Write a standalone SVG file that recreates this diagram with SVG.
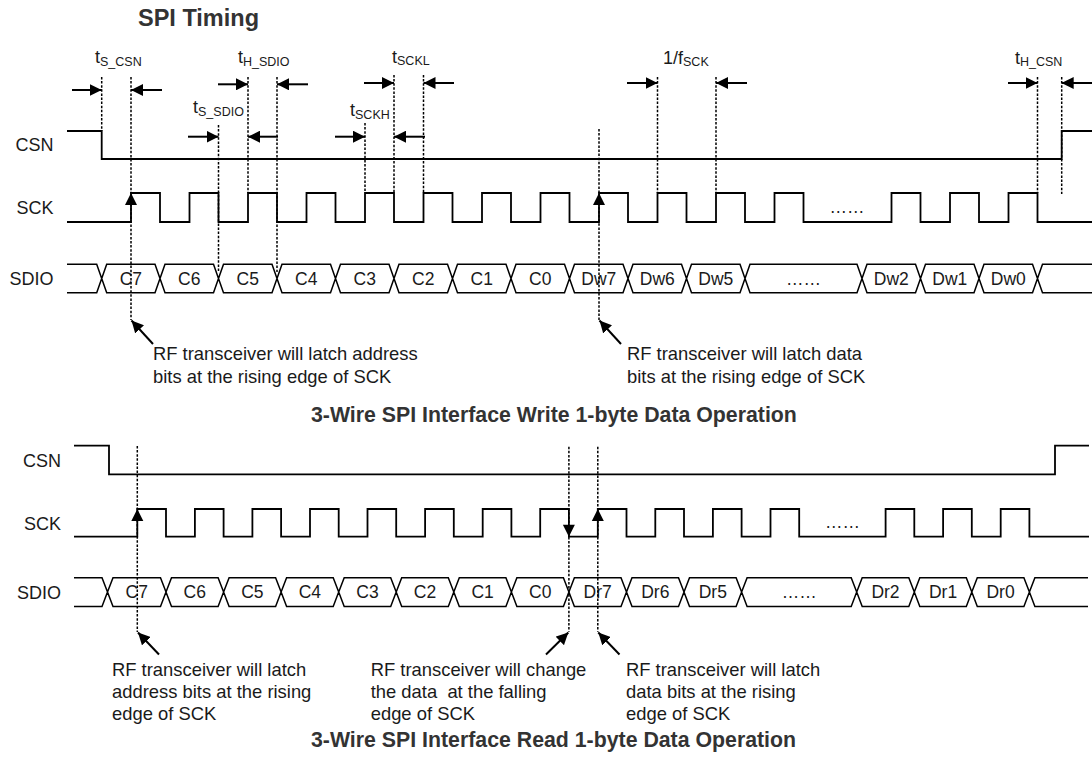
<svg xmlns="http://www.w3.org/2000/svg" width="1092" height="759" viewBox="0 0 1092 759">
<defs>
<style>
text{font-family:"Liberation Sans",Arial,sans-serif;fill:#1a1a1a}
.lbl{font-size:18px}
.cell{font-size:17.5px;text-anchor:middle}
.tl{font-size:18px}
.sub{font-size:12.5px}
.ann{font-size:18.4px;white-space:pre}
.ttl{font-weight:bold;fill:#333}
.wave{fill:none;stroke:#000;stroke-width:1.8}
.bus{fill:none;stroke:#000;stroke-width:1.5}
.dot{fill:none;stroke:#000;stroke-width:1.5;stroke-dasharray:2.5 1.6}
.arr{fill:none;stroke:#000;stroke-width:2;marker-end:url(#ah)}
.head{fill:#000}
</style>
<marker id="ah" viewBox="0 0 12 12" refX="12" refY="6" markerWidth="12" markerHeight="12" markerUnits="userSpaceOnUse" orient="auto">
<path d="M0,0 L12,6 L0,12 z" fill="#000"/>
</marker>
</defs>
<rect width="1092" height="759" fill="#fff"/>

<g id="title"><text class="ttl" x="138" y="26" font-size="23.5">SPI Timing</text></g>

<!-- ===== WRITE ===== -->
<g id="w-csn">
<text class="lbl" x="53.5" y="151.4" text-anchor="end">CSN</text>
<path class="wave" d="M67,131 H101.7 V159 H1061.7 V131 H1092"/>
</g>
<g id="w-sck">
<text class="lbl" x="53.5" y="214" text-anchor="end">SCK</text>
<path class="wave" d="M67,222 H131 V193 H160 V222 H189.5 V193 H218.5 V222 H248 V193 H277 V222 H306.5 V193 H335.5 V222 H365 V193 H394 V222 H423.5 V193 H452.5 V222 H482 V193 H511 V222 H540.5 V193 H569.5 V222 H599 V193 H628 V222 H657.5 V193 H686.5 V222 H716 V193 H745 V222 H774.5 V193 H803.5 V222 H891.5 V193 H920.5 V222 H950 V193 H979 V222 H1008.5 V193 H1037.5 V222 H1092"/>
<text class="cell" x="847" y="213">……</text>
</g>
<g id="w-sdio">
<text class="lbl" x="53.5" y="285" text-anchor="end">SDIO</text>
<path class="bus" d="M67,264.3 H96.7 L101.7,278.5 L96.7,292.7 H67
M101.7,278.5 L106.7,264.3 H155 L160,278.5 L155,292.7 H106.7 Z
M160,278.5 L165,264.3 H213.5 L218.5,278.5 L213.5,292.7 H165 Z
M218.5,278.5 L223.5,264.3 H272 L277,278.5 L272,292.7 H223.5 Z
M277,278.5 L282,264.3 H330.5 L335.5,278.5 L330.5,292.7 H282 Z
M335.5,278.5 L340.5,264.3 H389 L394,278.5 L389,292.7 H340.5 Z
M394,278.5 L399,264.3 H447.5 L452.5,278.5 L447.5,292.7 H399 Z
M452.5,278.5 L457.5,264.3 H506 L511,278.5 L506,292.7 H457.5 Z
M511,278.5 L516,264.3 H564.5 L569.5,278.5 L564.5,292.7 H516 Z
M569.5,278.5 L574.5,264.3 H623 L628,278.5 L623,292.7 H574.5 Z
M628,278.5 L633,264.3 H681.5 L686.5,278.5 L681.5,292.7 H633 Z
M686.5,278.5 L691.5,264.3 H740 L745,278.5 L740,292.7 H691.5 Z
M745,278.5 L750,264.3 H857 L862,278.5 L857,292.7 H750 Z
M862,278.5 L867,264.3 H915.5 L920.5,278.5 L915.5,292.7 H867 Z
M920.5,278.5 L925.5,264.3 H974 L979,278.5 L974,292.7 H925.5 Z
M979,278.5 L984,264.3 H1032.5 L1037.5,278.5 L1032.5,292.7 H984 Z
M1037.5,278.5 L1042.5,264.3 H1092 M1037.5,278.5 L1042.5,292.7 H1092"/>
<text class="cell" x="130.9" y="284.8">C7</text>
<text class="cell" x="189.3" y="284.8">C6</text>
<text class="cell" x="247.8" y="284.8">C5</text>
<text class="cell" x="306.3" y="284.8">C4</text>
<text class="cell" x="364.8" y="284.8">C3</text>
<text class="cell" x="423.3" y="284.8">C2</text>
<text class="cell" x="481.8" y="284.8">C1</text>
<text class="cell" x="540.3" y="284.8">C0</text>
<text class="cell" x="598.8" y="284.8">Dw7</text>
<text class="cell" x="657.3" y="284.8">Dw6</text>
<text class="cell" x="715.8" y="284.8">Dw5</text>
<text class="cell" x="803.5" y="284.8">……</text>
<text class="cell" x="891.3" y="284.8">Dw2</text>
<text class="cell" x="949.8" y="284.8">Dw1</text>
<text class="cell" x="1008.3" y="284.8">Dw0</text>
</g>
<g id="w-timing-labels">
<text class="tl" x="95" y="63.3">t<tspan class="sub" dy="2.5">S_CSN</tspan></text>
<text class="tl" x="238" y="63.3">t<tspan class="sub" dy="2.5">H_SDIO</tspan></text>
<text class="tl" x="193" y="113.3">t<tspan class="sub" dy="2.5">S_SDIO</tspan></text>
<text class="tl" x="392" y="62.7">t<tspan class="sub" dy="2.5">SCKL</tspan></text>
<text class="tl" x="350" y="116">t<tspan class="sub" dy="2.5">SCKH</tspan></text>
<text class="tl" x="663" y="63.5">1/f<tspan class="sub" dy="2.5">SCK</tspan></text>
<text class="tl" x="1015" y="63.5">t<tspan class="sub" dy="2.5">H_CSN</tspan></text>
</g>
<g id="w-notes">
<text class="ann" x="153" y="360">RF transceiver will latch address</text>
<text class="ann" x="153" y="383">bits at the rising edge of SCK</text>
<text class="ann" x="627" y="360">RF transceiver will latch data</text>
<text class="ann" x="627" y="383">bits at the rising edge of SCK</text>
</g>
<g id="w-caption"><text class="ttl" x="311" y="422" font-size="21.3">3-Wire SPI Interface Write 1-byte Data Operation</text></g>

<!-- ===== READ ===== -->
<g id="r-csn">
<text class="lbl" x="61" y="466.5" text-anchor="end">CSN</text>
<path class="wave" d="M74,445.7 H109 V474.3 H1055 V445.7 H1089"/>
</g>
<g id="r-sck">
<text class="lbl" x="61" y="529.5" text-anchor="end">SCK</text>
<path class="wave" d="M74,536.7 H137.3 V509 H166 V536.7 H194.9 V509 H223.6 V536.7 H252.4 V509 H281.1 V536.7 H310 V509 H338.7 V536.7 H367.5 V509 H396.2 V536.7 H425.1 V509 H453.8 V536.7 H482.7 V509 H511.4 V536.7 H540.2 V509 H568.9 V536.7 H597.8 V509 H626.5 V536.7 H655.3 V509 H684 V536.7 H712.9 V509 H741.6 V536.7 H770.5 V509 H799.2 V536.7 H885.6 V509 H914.3 V536.7 H943.1 V509 H971.8 V536.7 H1000.7 V509 H1029.4 V536.7 H1089"/>
<text class="cell" x="842.5" y="528">……</text>
</g>
<g id="r-sdio">
<text class="lbl" x="61" y="598.5" text-anchor="end">SDIO</text>
<path class="bus" d="M74,577.7 H102 L107.5,592.1 L102,606.5 H74
M107.5,592.1 L113,577.7 H160.5 L166,592.1 L160.5,606.5 H113 Z
M166,592.1 L171.5,577.7 H218.1 L223.6,592.1 L218.1,606.5 H171.5 Z
M223.6,592.1 L229.1,577.7 H275.6 L281.1,592.1 L275.6,606.5 H229.1 Z
M281.1,592.1 L286.6,577.7 H333.2 L338.7,592.1 L333.2,606.5 H286.6 Z
M338.7,592.1 L344.2,577.7 H390.7 L396.2,592.1 L390.7,606.5 H344.2 Z
M396.2,592.1 L401.7,577.7 H448.3 L453.8,592.1 L448.3,606.5 H401.7 Z
M453.8,592.1 L459.3,577.7 H505.9 L511.4,592.1 L505.9,606.5 H459.3 Z
M511.4,592.1 L516.9,577.7 H563.4 L568.9,592.1 L563.4,606.5 H516.9 Z
M568.9,592.1 L574.4,577.7 H621 L626.5,592.1 L621,606.5 H574.4 Z
M626.5,592.1 L632,577.7 H678.5 L684,592.1 L678.5,606.5 H632 Z
M684,592.1 L689.5,577.7 H736.1 L741.6,592.1 L736.1,606.5 H689.5 Z
M741.6,592.1 L747.1,577.7 H851.2 L856.7,592.1 L851.2,606.5 H747.1 Z
M856.7,592.1 L862.2,577.7 H908.8 L914.3,592.1 L908.8,606.5 H862.2 Z
M914.3,592.1 L919.8,577.7 H966.3 L971.8,592.1 L966.3,606.5 H919.8 Z
M971.8,592.1 L977.3,577.7 H1023.9 L1029.4,592.1 L1023.9,606.5 H977.3 Z
M1029.4,592.1 L1034.9,577.7 H1088 M1029.4,592.1 L1034.9,606.5 H1088"/>
<text class="cell" x="136.8" y="598.4">C7</text>
<text class="cell" x="194.8" y="598.4">C6</text>
<text class="cell" x="252.4" y="598.4">C5</text>
<text class="cell" x="309.9" y="598.4">C4</text>
<text class="cell" x="367.5" y="598.4">C3</text>
<text class="cell" x="425" y="598.4">C2</text>
<text class="cell" x="482.6" y="598.4">C1</text>
<text class="cell" x="540.2" y="598.4">C0</text>
<text class="cell" x="597.7" y="598.4">Dr7</text>
<text class="cell" x="655.3" y="598.4">Dr6</text>
<text class="cell" x="712.8" y="598.4">Dr5</text>
<text class="cell" x="799.2" y="598.4">……</text>
<text class="cell" x="885.5" y="598.4">Dr2</text>
<text class="cell" x="943.1" y="598.4">Dr1</text>
<text class="cell" x="1000.6" y="598.4">Dr0</text>
</g>
<g id="r-notes">
<text class="ann" x="112" y="676">RF transceiver will latch</text>
<text class="ann" x="112" y="698">address bits at the rising</text>
<text class="ann" x="112" y="720">edge of SCK</text>
<text class="ann" x="370.7" y="676">RF transceiver will change</text>
<text class="ann" x="370.7" y="698">the data  at the falling</text>
<text class="ann" x="370.7" y="720">edge of SCK</text>
<text class="ann" x="626" y="676">RF transceiver will latch</text>
<text class="ann" x="626" y="698">data bits at the rising</text>
<text class="ann" x="626" y="720">edge of SCK</text>
</g>
<g id="r-caption"><text class="ttl" x="311" y="746.7" font-size="21.3">3-Wire SPI Interface Read 1-byte Data Operation</text></g>

<!-- ===== CONNECTORS ===== -->
<g id="connectors">
<line class="dot" x1="101.7" y1="77" x2="101.7" y2="131"/>
<line class="dot" x1="131" y1="77" x2="131" y2="320"/>
<line class="dot" x1="218.5" y1="125" x2="218.5" y2="272"/>
<line class="dot" x1="248" y1="77" x2="248" y2="193"/>
<line class="dot" x1="277" y1="77" x2="277" y2="272"/>
<line class="dot" x1="365" y1="123" x2="365" y2="193"/>
<line class="dot" x1="394" y1="75" x2="394" y2="193"/>
<line class="dot" x1="423.5" y1="75" x2="423.5" y2="193"/>
<line class="dot" x1="599" y1="129" x2="599" y2="320"/>
<line class="dot" x1="657.5" y1="77" x2="657.5" y2="193"/>
<line class="dot" x1="716" y1="77" x2="716" y2="193"/>
<line class="dot" x1="1037.5" y1="77" x2="1037.5" y2="193"/>
<line class="dot" x1="1061.7" y1="77" x2="1061.7" y2="194"/>

<line class="arr" x1="72" y1="90" x2="101.7" y2="90"/>
<line class="arr" x1="162" y1="90" x2="131" y2="90"/>
<line class="arr" x1="218" y1="84.3" x2="248" y2="84.3"/>
<line class="arr" x1="308" y1="84.3" x2="277" y2="84.3"/>
<line class="arr" x1="188" y1="136.7" x2="218.5" y2="136.7"/>
<line class="arr" x1="278" y1="136.7" x2="248" y2="136.7"/>
<line class="arr" x1="364" y1="83" x2="394" y2="83"/>
<line class="arr" x1="454" y1="83" x2="423.5" y2="83"/>
<line class="arr" x1="335" y1="136.7" x2="365" y2="136.7"/>
<line class="arr" x1="425" y1="136.7" x2="394" y2="136.7"/>
<line class="arr" x1="627" y1="83" x2="657.5" y2="83"/>
<line class="arr" x1="747" y1="83" x2="716" y2="83"/>
<line class="arr" x1="1008" y1="83" x2="1037.5" y2="83"/>
<line class="arr" x1="1092" y1="83" x2="1061.7" y2="83"/>

<polygon class="head" points="131,193 125,205 137,205"/>
<polygon class="head" points="599,193 593,205 605,205"/>
<line class="arr" x1="153" y1="344" x2="131.5" y2="320.5"/>
<line class="arr" x1="621" y1="344" x2="599.5" y2="320.5"/>

<line class="dot" x1="137.3" y1="446" x2="137.3" y2="632"/>
<line class="dot" x1="568.9" y1="446.7" x2="568.9" y2="632"/>
<line class="dot" x1="597.8" y1="446.7" x2="597.8" y2="632"/>
<polygon class="head" points="137.3,509 131.3,521 143.3,521"/>
<polygon class="head" points="597.8,509 591.8,521 603.8,521"/>
<polygon class="head" points="568.9,536.7 562.9,524.7 574.9,524.7"/>
<line class="arr" x1="159" y1="654.5" x2="138" y2="632.5"/>
<line class="arr" x1="546" y1="654.5" x2="568.3" y2="632.5"/>
<line class="arr" x1="619.5" y1="654.5" x2="598.3" y2="632.5"/>
</g>
</svg>
